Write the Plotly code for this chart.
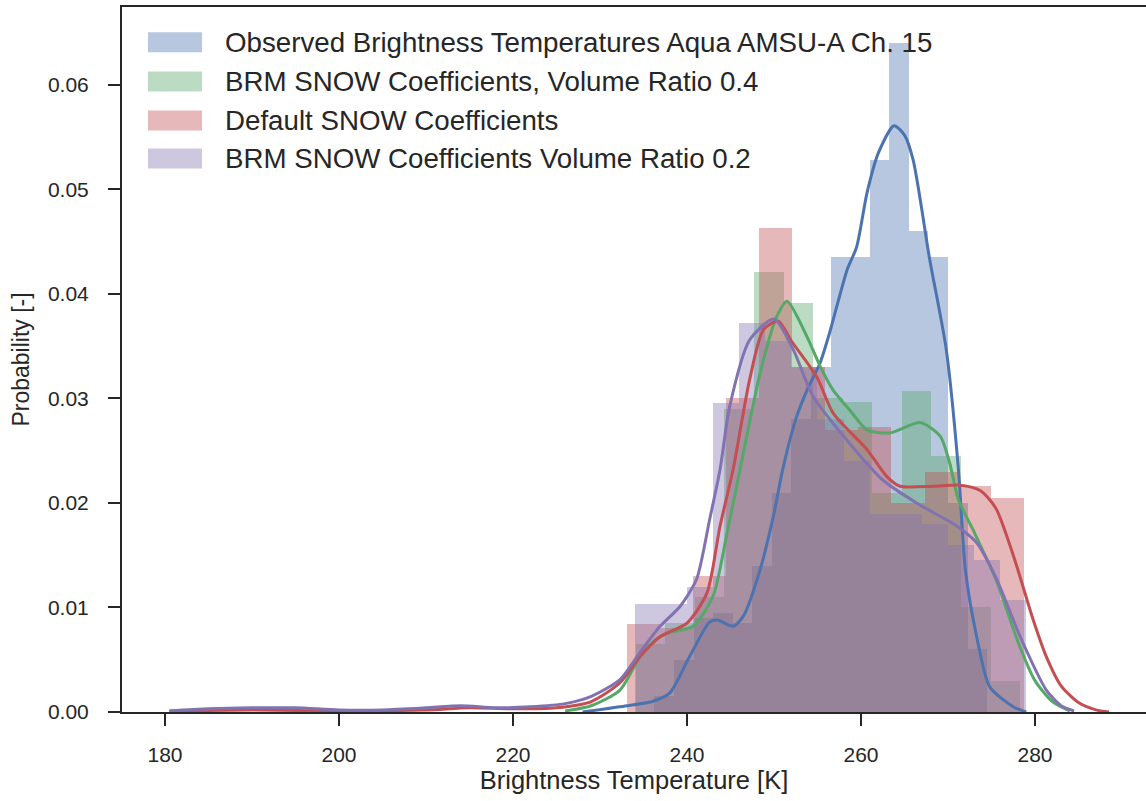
import plotly.graph_objects as go

# ---- histogram bins (edges, K) and densities ----
obs_edges = [236.25, 238.5, 240.75, 243.0, 245.25, 247.5, 249.75, 252.0, 254.25,
             256.5, 258.75, 261.0, 263.25, 265.5, 267.75, 270.0, 272.25, 274.5]
obs_density = [0.0015, 0.005, 0.009, 0.0095, 0.0085, 0.014, 0.021, 0.028, 0.033,
               0.0435, 0.0435, 0.0528, 0.064, 0.046, 0.0435, 0.020, 0.006]

brm04_edges = [234.1, 237.5, 240.9, 244.3, 247.7, 251.1, 254.5, 257.9, 261.3,
               264.7, 268.1, 271.5, 274.9, 278.3]
brm04_density = [0.0065, 0.0085, 0.011, 0.029, 0.0421, 0.0391, 0.030, 0.0297,
                 0.021, 0.0307, 0.0245, 0.010, 0.003]

default_edges = [233.1, 236.9, 240.7, 244.5, 248.3, 252.1, 255.9, 259.7, 263.5,
                 267.3, 271.1, 274.9, 278.7]
default_density = [0.0084, 0.0080, 0.013, 0.030, 0.0463, 0.033, 0.027, 0.0273,
                   0.020, 0.023, 0.0216, 0.0205]

brm02_edges = [234.0, 237.0, 240.0, 243.0, 246.0, 249.0, 252.0, 255.0, 258.0,
               261.0, 264.0, 267.0, 270.0, 273.0, 276.0, 279.0]
brm02_density = [0.0103, 0.0103, 0.012, 0.0296, 0.0372, 0.0355, 0.033, 0.028,
                 0.024, 0.0189, 0.0189, 0.018, 0.016, 0.0145, 0.0107]

# ---- kernel density curves (K, density) ----
obs_kde_x = [228.0, 232.3, 236.0, 238.0, 240.3, 242.6, 243.5, 245.3, 246.5, 248.4,
             250.0, 251.0, 252.5, 253.8, 255.3, 256.4, 258.4, 259.5, 260.7, 262.0,
             263.8, 265.0, 266.0, 267.9, 269.8, 271.2, 272.0, 273.3, 274.8, 277.5,
             279.0]
obs_kde_y = [0.0, 0.0005, 0.0010, 0.0018, 0.0053, 0.0086, 0.0088, 0.0082, 0.0092,
             0.0136, 0.019, 0.0232, 0.028, 0.0308, 0.0334, 0.0363, 0.0423, 0.0445,
             0.0497, 0.0535, 0.0561, 0.0552, 0.0528, 0.0433, 0.0347, 0.0232, 0.0136,
             0.0072, 0.0024, 0.0005, 0.0]

brm04_kde_x = [226.0, 229.0, 232.3, 234.6, 236.5, 238.0, 240.7, 243.0, 244.6, 246.1,
               248.4, 250.3, 251.5, 253.8, 255.3, 256.8, 258.7, 260.7, 263.3, 266.8,
               269.1, 270.2, 271.2, 272.9, 275.6, 278.0, 280.0, 282.0, 284.0]
brm04_kde_y = [0.0001, 0.0006, 0.0021, 0.0053, 0.0070, 0.0076, 0.0082, 0.0111,
               0.0171, 0.0232, 0.0324, 0.0378, 0.0393, 0.0359, 0.0331, 0.0308,
               0.0289, 0.027, 0.0267, 0.0277, 0.0264, 0.0238, 0.0203, 0.0174,
               0.0125, 0.0068, 0.003, 0.001, 0.0001]

default_kde_x = [180.5, 190.0, 200.0, 210.0, 215.0, 220.0, 225.0, 229.0, 232.3,
                 234.6, 236.9, 240.0, 242.3, 243.8, 245.3, 247.2, 248.8, 250.5,
                 252.0, 254.9, 256.8, 260.7, 263.0, 264.5, 268.3, 271.4, 273.7,
                 275.5, 277.5, 279.8, 281.3, 283.0, 285.0, 287.0, 288.5]
default_kde_y = [0.0001, 0.0002, 0.0001, 0.0002, 0.0004, 0.0003, 0.0004, 0.0010,
                 0.0028, 0.0053, 0.0072, 0.0085, 0.0114, 0.0178, 0.0232, 0.0318,
                 0.0366, 0.0374, 0.0355, 0.0321, 0.0286, 0.0251, 0.0225, 0.0216,
                 0.0216, 0.0217, 0.0212, 0.0195, 0.0150, 0.0088, 0.0053,
                 0.0025, 0.0009, 0.0002, 0.0]

brm02_kde_x = [180.5, 185.0, 190.0, 195.0, 200.0, 205.0, 210.0, 214.0, 218.0,
               222.0, 226.0, 229.0, 232.3, 234.6, 236.9, 239.2, 241.1, 242.6,
               243.8, 244.9, 247.2, 250.0, 252.2, 254.5, 258.7, 262.5, 266.4,
               269.8, 271.0, 273.3, 275.6, 278.3, 281.3, 283.0, 284.5]
brm02_kde_y = [0.0001, 0.0003, 0.0004, 0.0004, 0.0002, 0.0002, 0.0004, 0.0006,
               0.0004, 0.0005, 0.0008, 0.0015, 0.0031, 0.0057, 0.0082, 0.0101,
               0.0127, 0.0184, 0.0232, 0.0292, 0.0356, 0.0376, 0.0347, 0.0302,
               0.0257, 0.0222, 0.020, 0.0184, 0.0178, 0.0162, 0.0127, 0.0072,
               0.0021, 0.0006, 0.0001]

series_names = [
    "Observed Brightness Temperatures Aqua AMSU-A Ch. 15",
    "BRM SNOW Coefficients, Volume Ratio 0.4",
    "Default SNOW Coefficients",
    "BRM SNOW Coefficients Volume Ratio 0.2",
]
colors = ["#4C72B0", "#55A868", "#C44E52", "#8172B2"]

x_ticks = [180, 200, 220, 240, 260, 280]
y_ticks = [0.00, 0.01, 0.02, 0.03, 0.04, 0.05, 0.06]

FONT = "Liberation Sans, Arial, sans-serif"
INK = "#262626"


def rgba(hex_color, a):
    h = hex_color.lstrip("#")
    r, g, b = int(h[0:2], 16), int(h[2:4], 16), int(h[4:6], 16)
    return f"rgba({r},{g},{b},{a})"


hists = [
    (obs_edges, obs_density),
    (brm04_edges, brm04_density),
    (default_edges, default_density),
    (brm02_edges, brm02_density),
]
kdes = [
    (obs_kde_x, obs_kde_y),
    (brm04_kde_x, brm04_kde_y),
    (default_kde_x, default_kde_y),
    (brm02_kde_x, brm02_kde_y),
]

fig = go.Figure()

for (edges, dens), col, name in zip(hists, colors, series_names):
    centers = [(a + b) / 2 for a, b in zip(edges[:-1], edges[1:])]
    widths = [b - a for a, b in zip(edges[:-1], edges[1:])]
    fig.add_trace(go.Bar(
        x=centers, y=dens, width=widths, name=name,
        marker=dict(color=rgba(col, 0.4), line=dict(width=0)),
        showlegend=False, hoverinfo="skip",
    ))

for (kx, ky), col, name in zip(kdes, colors, series_names):
    fig.add_trace(go.Scatter(
        x=kx, y=ky, mode="lines", name=name,
        line=dict(color=col, width=3, shape="spline", smoothing=0.7),
        showlegend=False, hoverinfo="skip",
    ))

# plot area in pixels (used to place the hand-drawn legend)
L, T, W, H = 122, 7, 1024, 705
fig_w, fig_h = 1146, 801


def px(xp):
    return (xp - L) / W


def py(yp):
    return (T + H - yp) / H


shapes = []
annotations = []
row_centers = [42.3, 81.5, 120.5, 158.5]
for col, name, yc in zip(colors, series_names, row_centers):
    shapes.append(dict(
        type="rect", xref="paper", yref="paper",
        x0=px(148), x1=px(202), y0=py(yc + 10), y1=py(yc - 10),
        fillcolor=rgba(col, 0.4), line=dict(width=0), layer="above",
    ))
    annotations.append(dict(
        xref="paper", yref="paper", x=px(223), y=py(yc),
        xanchor="left", yanchor="middle", text=name, showarrow=False,
        font=dict(size=27.7, color=INK, family=FONT),
    ))

axis_common = dict(
    showgrid=False, zeroline=False, showline=True, linecolor=INK,
    linewidth=2, ticks="outside", ticklen=12, tickwidth=1.6, tickcolor=INK,
    tickfont=dict(size=21, color=INK, family=FONT),
)

fig.update_layout(
    width=fig_w, height=fig_h,
    margin=dict(l=L, r=fig_w - L - W, t=T, b=fig_h - T - H),
    plot_bgcolor="white", paper_bgcolor="white",
    barmode="overlay", bargap=0,
    shapes=shapes, annotations=annotations,
    xaxis=dict(
        range=[175.06, 292.76], tickvals=x_ticks, ticklabelstandoff=11, mirror=True,
        title=dict(text="Brightness Temperature [K]", standoff=4,
                   font=dict(size=25.5, color=INK, family=FONT)),
        **axis_common,
    ),
    yaxis=dict(
        range=[0, 0.06746], tickvals=y_ticks, tickformat=".2f", ticklabelstandoff=15,
        mirror=False,
        title=dict(text="Probability [-]", standoff=12,
                   font=dict(size=23, color=INK, family=FONT)),
        **axis_common,
    ),
)

fig.write_html("out.html")
